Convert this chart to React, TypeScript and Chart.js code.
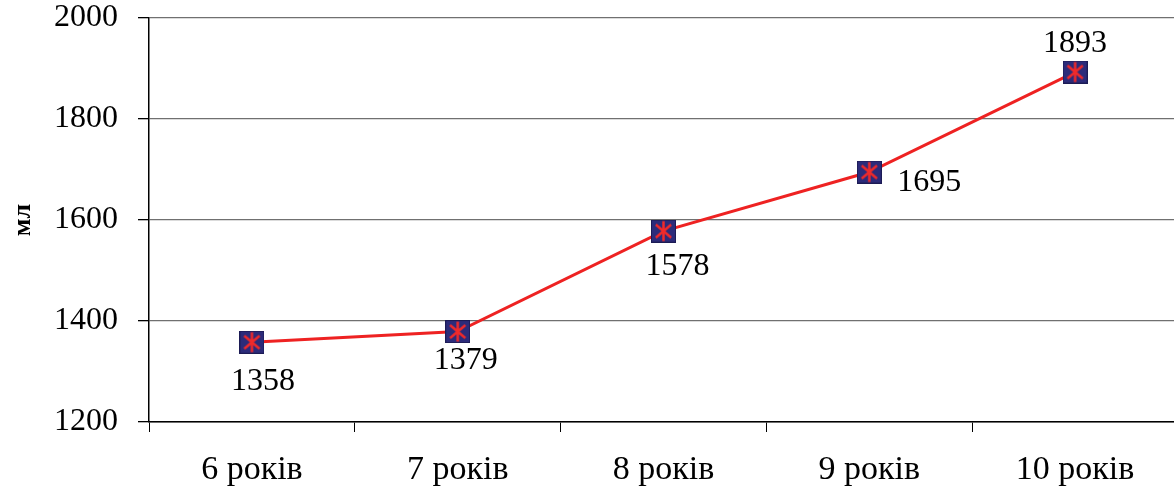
import React, { useEffect, useRef } from "react";
import { Chart, registerables } from "chart.js";

Chart.register(...registerables);

const categories = ["6 років", "7 років", "8 років", "9 років", "10 років"];
const values = [1358, 1379, 1578, 1695, 1893];
const yTicks = [1200, 1400, 1600, 1800, 2000];
const yTitle = "мл";

// label placement offsets (dx, dy) relative to point centre
const labelOffsets: [number, number][] = [
  [11, 39],
  [8, 29],
  [14, 35],
  [60, 11],
  [0, -28],
];

const FONT = "'Liberation Serif', 'Times New Roman', serif";

function makeMarker(): HTMLCanvasElement {
  const c = document.createElement("canvas");
  const w = 25, h = 23;
  c.width = w;
  c.height = h;
  const g = c.getContext("2d")!;
  g.fillStyle = "#2c2b7a";
  g.fillRect(0, 0, w, h);
  g.strokeStyle = "#1c1b55";
  g.lineWidth = 1;
  g.strokeRect(0.5, 0.5, w - 1, h - 1);
  g.strokeStyle = "#f02a2a";
  g.lineWidth = 2.5;
  const cx = w / 2, cy = h / 2, r = 10;
  const a = (40 * Math.PI) / 180;
  g.beginPath();
  g.moveTo(cx, cy - r);
  g.lineTo(cx, cy + r);
  const dx = r * Math.cos(a), dy = r * Math.sin(a);
  g.moveTo(cx - dx, cy - dy);
  g.lineTo(cx + dx, cy + dy);
  g.moveTo(cx - dx, cy + dy);
  g.lineTo(cx + dx, cy - dy);
  g.stroke();
  return c;
}

const labelPlugin = {
  id: "valueLabels",
  afterDatasetsDraw(chart: any) {
    const ctx = chart.ctx;
    const meta = chart.getDatasetMeta(0);
    ctx.save();
    ctx.font = `32px ${FONT}`;
    ctx.fillStyle = "#000";
    ctx.textAlign = "center";
    ctx.textBaseline = "middle";
    meta.data.forEach((pt: any, i: number) => {
      const [ox, oy] = labelOffsets[i];
      ctx.fillText(String(values[i]), pt.x + ox, pt.y + oy);
    });
    ctx.restore();
  },
};

export default function App() {
  const ref = useRef<HTMLCanvasElement>(null);
  useEffect(() => {
    document.body.style.margin = "0";
    document.body.style.overflow = "hidden";
    document.documentElement.style.overflow = "hidden";
    const marker = makeMarker();
    const chart = new Chart(ref.current!, {
      type: "line",
      data: {
        labels: categories,
        datasets: [
          {
            data: values,
            borderColor: "#ee2222",
            borderWidth: 3,
            pointStyle: marker as any,
            pointRadius: 12,
            tension: 0,
          },
        ],
      },
      options: {
        animation: false,
        responsive: true,
        maintainAspectRatio: false,
        layout: { padding: 0 },
        plugins: {
          legend: { display: false },
          tooltip: { enabled: false },
        },
        scales: {
          x: {
            type: "category",
            offset: true,
            grid: {
              offset: true,
              drawOnChartArea: false,
              drawTicks: true,
              tickLength: 10,
              color: "#000",
            },
            border: { color: "#000", width: 1.5 },
            ticks: {
              color: "#000",
              font: { family: FONT, size: 34 },
              padding: 18,
              maxRotation: 0,
              autoSkip: false,
            },
            afterFit(scale: any) {
              scale.height = 64;
              scale.paddingLeft = 0;
              scale.paddingRight = 0;
            },
          },
          y: {
            min: 1200,
            max: 2000,
            afterBuildTicks(scale: any) {
              scale.ticks = yTicks.map((v) => ({ value: v }));
            },
            grid: {
              color: "#707070",
              lineWidth: 1.3,
              tickLength: 11,
              tickColor: "#000",
            },
            border: { color: "#000", width: 1.5 },
            ticks: {
              color: "#000",
              font: { family: FONT, size: 32 },
              padding: 20,
              callback: (v: any) => String(v),
            },
            title: {
              display: true,
              text: yTitle,
              color: "#000",
              font: { family: FONT, size: 26, weight: "bold" },
              padding: { top: 8, bottom: 0 },
            },
            afterFit(scale: any) {
              scale.width = 149;
              scale.paddingTop = 18;
              scale.paddingBottom = 0;
            },
          },
        },
      },
      plugins: [labelPlugin],
    });
    return () => chart.destroy();
  }, []);
  return (
    <div
      style={{
        position: "fixed",
        left: 0,
        top: 0,
        width: "1193px",
        height: "486px",
        overflow: "hidden",
      }}
    >
      <canvas ref={ref} />
    </div>
  );
}
